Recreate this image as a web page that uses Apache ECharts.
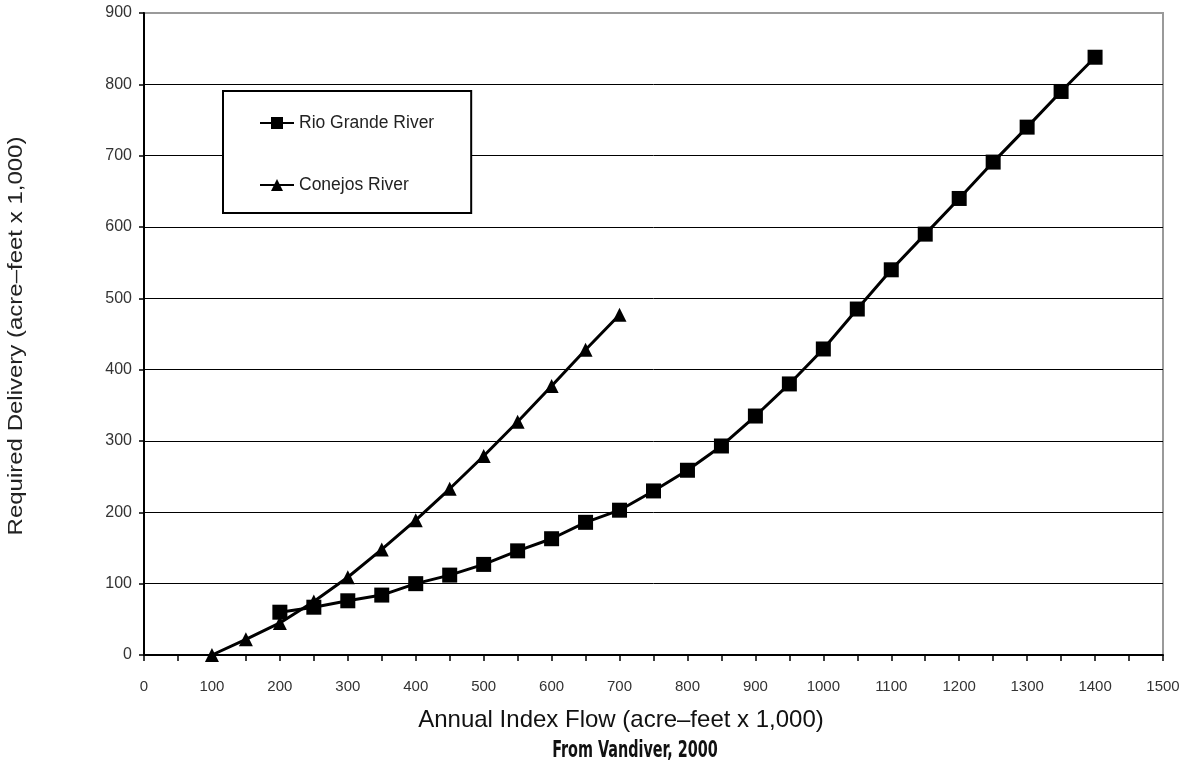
<!DOCTYPE html>
<html>
<head>
<meta charset="utf-8">
<script src="https://cdn.jsdelivr.net/npm/echarts@6/dist/echarts.min.js"></script>
<style>
  html, body { margin: 0; padding: 0; background: #fff; }
  #chart { width: 1192px; height: 765px; }
</style>
</head>
<body>
<div id="chart"></div>
<script>
// Annual index flow (acre-feet x 1,000)
const rioFlow = [200, 250, 300, 350, 400, 450, 500, 550, 600, 650, 700, 750, 800, 850, 900, 950, 1000, 1050, 1100, 1150, 1200, 1250, 1300, 1350, 1400];
// Required delivery, Rio Grande (acre-feet x 1,000)
const rioDelivery = [60, 67, 76, 84, 100, 112, 127, 146, 163, 186, 203, 230, 259, 293, 335, 380, 429, 485, 540, 590, 640, 691, 740, 790, 838];

const conejosFlow = [100, 150, 200, 250, 300, 350, 400, 450, 500, 550, 600, 650, 700];
// Required delivery, Conejos (acre-feet x 1,000)
const conejosDelivery = [0, 22, 45, 75, 109, 148, 189, 233, 279, 327, 377, 428, 477];

const seriesNames = ['Rio Grande River', 'Conejos River'];
const xTitle = 'Annual Index Flow (acre\u2013feet x 1,000)';
const yTitle = 'Required Delivery (acre\u2013feet x 1,000)';
const sourceNote = 'From Vandiver, 2000';

const zip = (xs, ys) => xs.map((x, i) => [x, ys[i]]);

const font = '"Liberation Sans", Arial, sans-serif';
const chart = echarts.init(document.getElementById('chart'), null, { renderer: 'canvas' });

chart.setOption({
  backgroundColor: '#fff',
  animation: false,
  grid: {
    left: 144, right: 29, top: 13, bottom: 110,
    show: true, borderColor: '#9a9a9a', borderWidth: 2, backgroundColor: 'transparent'
  },
  legend: {
    orient: 'vertical',
    left: 223, top: 91,
    padding: [23, 37, 19, 36],
    itemGap: 44,
    itemWidth: 34, itemHeight: 15,
    backgroundColor: '#fff',
    borderColor: '#000', borderWidth: 2, borderRadius: 0,
    textStyle: { fontFamily: font, fontSize: 17.5, color: '#222' },
    data: seriesNames
  },
  xAxis: {
    type: 'value', min: 0, max: 1500, interval: 50,
    axisLine: { show: true, lineStyle: { color: '#000', width: 2 } },
    axisTick: { show: true, length: 6, lineStyle: { color: '#000', width: 1.5 } },
    axisLabel: {
      margin: 24, fontFamily: font, fontSize: 15, color: '#333',
      formatter: v => (v % 100 === 0 ? String(v) : '')
    },
    splitLine: { show: false }
  },
  yAxis: {
    type: 'value', min: 0, max: 900, interval: 100,
    axisLine: { show: true, lineStyle: { color: '#000', width: 2 } },
    axisTick: { show: true, length: 5, lineStyle: { color: '#000', width: 1.5 } },
    axisLabel: { margin: 12, fontFamily: font, fontSize: 16, color: '#333' },
    splitLine: { show: true, showMinLine: false, showMaxLine: false, lineStyle: { color: '#000', width: 1 } }
  },
  graphic: [
    {
      type: 'text', x: 621, y: 720,
      style: { text: xTitle, font: '24px ' + font, fill: '#111', align: 'center', verticalAlign: 'middle' }
    },
    {
      type: 'text', x: 635, y: 751, scaleY: 1.45,
      style: { text: sourceNote, font: 'bold 16px "Liberation Sans Narrow", "DejaVu Sans Condensed", sans-serif', fill: '#111', align: 'center', verticalAlign: 'middle' }
    },
    {
      type: 'text', x: 16, y: 336, rotation: Math.PI / 2, scaleX: 1.2,
      style: { text: yTitle, font: '20px ' + font, fill: '#222', align: 'center', verticalAlign: 'middle' }
    }
  ],
  series: [
    {
      name: seriesNames[0], type: 'line',
      data: zip(rioFlow, rioDelivery),
      symbol: 'rect', symbolSize: 15,
      itemStyle: { color: '#000' },
      lineStyle: { color: '#000', width: 3 },
      z: 3
    },
    {
      name: seriesNames[1], type: 'line',
      data: zip(conejosFlow, conejosDelivery),
      symbol: 'triangle', symbolSize: 14,
      itemStyle: { color: '#000' },
      lineStyle: { color: '#000', width: 3 },
      z: 4
    }
  ]
});
</script>
</body>
</html>
